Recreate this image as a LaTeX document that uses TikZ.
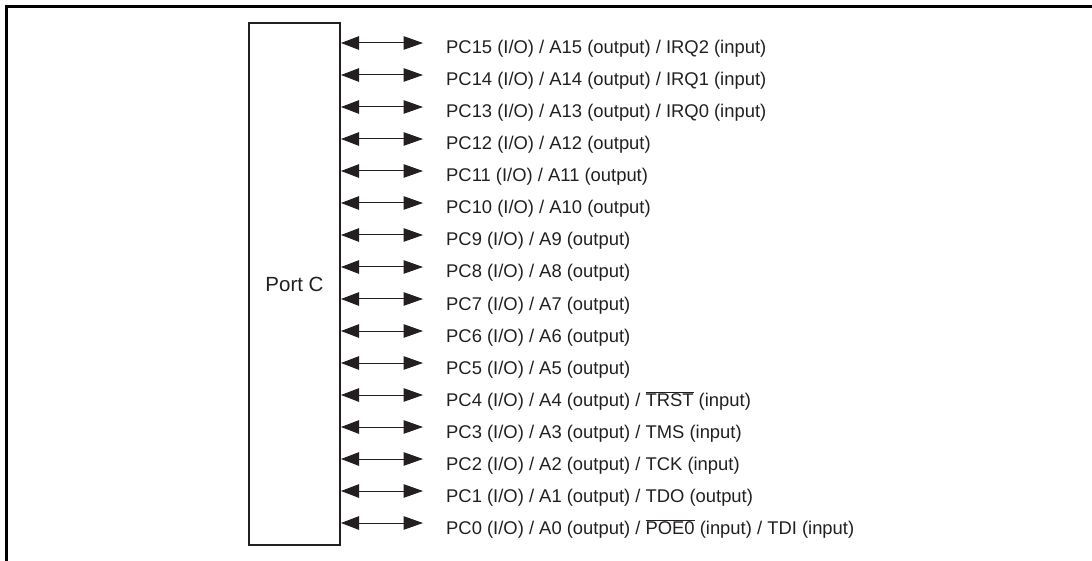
\documentclass[tikz,border=0pt]{standalone}
\usepackage{fontspec}
\setmainfont{Liberation Sans}
\usetikzlibrary{arrows.meta,positioning}
\definecolor{ink}{RGB}{35,31,32}
\newcommand{\barsig}[1]{$\overline{\mbox{#1}}$}

\begin{document}
\begin{tikzpicture}[x=1pt,y=1pt,
 port/.style={draw=ink,line width=2pt,minimum width=91pt,minimum height=522pt,inner sep=0pt,text=ink,font=\fontsize{20.5}{24}\selectfont},
 pinarrow/.style={{Triangle[length=18pt,width=13.5pt]}-{Triangle[length=19.5pt,width=13.5pt]},line width=1pt,draw=ink,fill=ink},
 lab/.style={anchor=base west,inner sep=0pt,text=ink,font=\fontsize{18.4}{22}\selectfont}]
\useasboundingbox (0,0) rectangle (1092,-561);
% frame
\draw[line width=3pt] (6,-561) -- (6,-7) -- (1092,-7);
\node[port] (portc) at (294.5,-284) {Port C};
% one arrow and label per pin, PC15 at the top
\foreach \t [count=\i] in {
 {PC15 (I/O) / A15 (output) / IRQ2 (input)},
 {PC14 (I/O) / A14 (output) / IRQ1 (input)},
 {PC13 (I/O) / A13 (output) / IRQ0 (input)},
 {PC12 (I/O) / A12 (output)},
 {PC11 (I/O) / A11 (output)},
 {PC10 (I/O) / A10 (output)},
 {PC9 (I/O) / A9 (output)},
 {PC8 (I/O) / A8 (output)},
 {PC7 (I/O) / A7 (output)},
 {PC6 (I/O) / A6 (output)},
 {PC5 (I/O) / A5 (output)},
 {PC4 (I/O) / A4 (output) / \barsig{TRST} (input)},
 {PC3 (I/O) / A3 (output) / TMS (input)},
 {PC2 (I/O) / A2 (output) / TCK (input)},
 {PC1 (I/O) / A1 (output) / TDO (output)},
 {PC0 (I/O) / A0 (output) / \barsig{POE0} (input) / TDI (input)}}{
  \coordinate (tip\i) at (423,{-43-32*(\i-1)});
  \draw[pinarrow] (portc.east |- tip\i) -- (tip\i);
  \node[lab] (lbl\i) at ([xshift=23pt,yshift=-11pt]tip\i) {\t};
}
\end{tikzpicture}
\end{document}
